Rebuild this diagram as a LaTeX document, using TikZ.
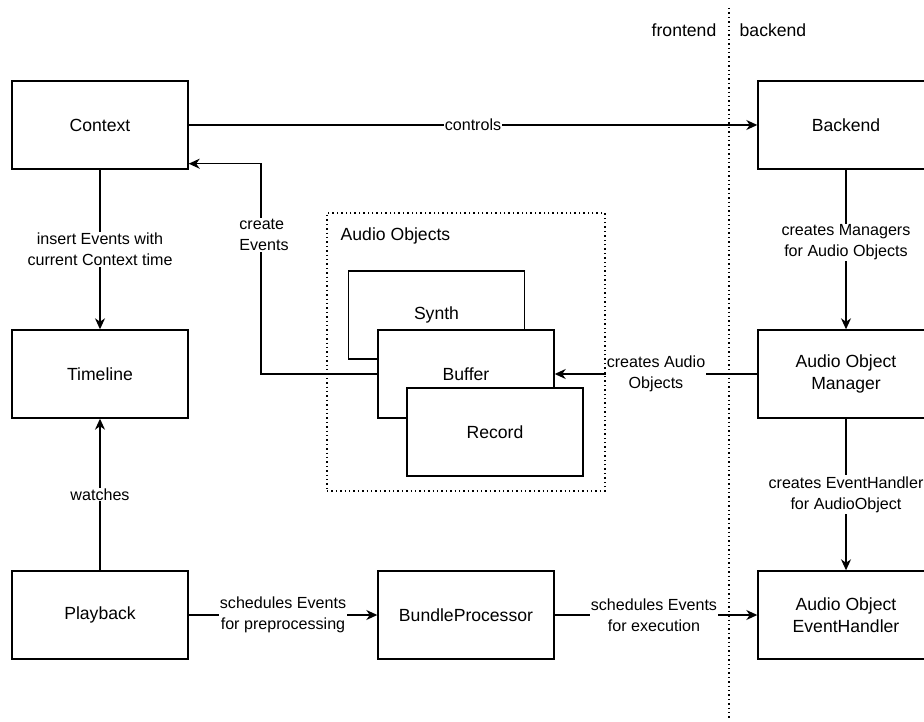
\documentclass[tikz,border=0pt]{standalone}
\usepackage{fontspec}
\setmainfont{Liberation Sans}
\usetikzlibrary{arrows.meta,calc}
\begin{document}
\begin{tikzpicture}[x=1pt,y=-1pt,
  line width=1.4pt,
  box/.style={draw, fill=white, minimum width=176pt, minimum height=88pt, inner sep=0pt,
    align=center, font=\fontsize{17.6}{22}\selectfont},
  container/.style={draw, dash pattern=on 1.4pt off 3pt, minimum width=278pt, minimum height=278pt, inner sep=0pt},
  arr/.style={-{Stealth[length=11pt,width=10pt,inset=3.5pt]}},
  lbl/.style={fill=white, inner sep=1pt, align=center, font=\fontsize{16.1}{21}\selectfont},
  side/.style={inner sep=0pt, font=\fontsize{17.6}{22}\selectfont},
  divider/.style={dash pattern=on 1.4pt off 3pt}
]
\useasboundingbox (0,0) rectangle (924,722);

% divider
\coordinate (dtop) at (729,8);
\coordinate (dbot) at (729,718);
\draw[divider] (dtop) -- (dbot);
\node[side, anchor=east] (fe) at (717,30) {frontend};
\node[side, anchor=west] (bk) at (739,30) {backend};

% container
\node[container] (ao) at (466,352) {};
\node[side, anchor=west] (aolbl) at (340,236) {Audio Objects};

% boxes
\node[box] (ctx) at (100,125) {Context};
\node[box] (tl) at (100,374) {Timeline};
\node[box] (pb) at (100,615) {Playback};
\node[box] (bp) at (466,615) {BundleProcessor};
\node[box] (be) at (846,125) {Backend};
\node[box] (aom) at (846,374) {Audio Object\\Manager};
\node[box] (aoeh) at (846,615) {Audio Object\\EventHandler};

\node[box] (syn) at (436.5,315) {Synth};
\node[box] (buf) at (466,374) {Buffer};
\node[box] (rec) at (495,432) {Record};

% connectors
\draw[arr] (ctx.east) -- node[lbl, pos=0.5] {controls} (be.west);
\draw[arr] (ctx.south) -- node[lbl, pos=0.5] {insert Events with\\current Context time} (tl.north);
\draw[arr] (pb.north) -- node[lbl, pos=0.5] {watches} (tl.south);
\draw[arr] (be.south) -- node[lbl, pos=0.455] {creates Managers\\for Audio Objects} (aom.north);
\draw[arr] (aom.south) -- node[lbl, pos=0.5] {creates EventHandler\\for AudioObject} (aoeh.north);
\draw[arr] (aom.west) -- node[lbl, pos=0.5] {creates Audio\\Objects} (buf.east);
\draw[arr] (pb.east) -- node[lbl, pos=0.5] {schedules Events\\for preprocessing} (bp.west);
\draw[arr] (bp.east) -- node[lbl, pos=0.49] {schedules Events\\for execution} (aoeh.west);

\coordinate (ctxin) at ($(ctx.south east)+(0,-6)$);
\coordinate (bend) at (261,374);
\draw[arr] (buf.west) -- (bend) |- (ctxin);
\node[lbl, align=left] (celbl) at (264,235) {create\\Events};
\end{tikzpicture}
\end{document}
